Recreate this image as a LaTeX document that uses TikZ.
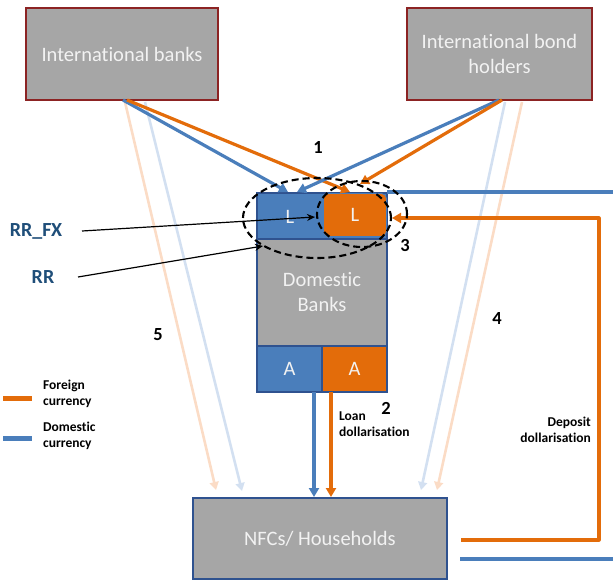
\documentclass[tikz,border=0pt]{standalone}
\usepackage{fontspec}
\setmainfont[Ligatures=NoCommon]{Carlito}
\usetikzlibrary{arrows.meta,calc}
\definecolor{cblue}{HTML}{4A7EBB}
\definecolor{corange}{HTML}{E36C0A}
\definecolor{cgray}{HTML}{A6A6A6}
\definecolor{cred}{HTML}{8C2323}
\definecolor{cnavy}{HTML}{2F528F}
\definecolor{lorange}{HTML}{FBDCC6}
\definecolor{lblue}{HTML}{D3E0F1}
\definecolor{rrblue}{HTML}{1F4E79}
\definecolor{btext}{HTML}{F2F2F2}
\begin{document}
\begin{tikzpicture}[x=1pt,y=-1pt,
  bigfont/.style={font=\fontsize{20.5}{25}\selectfont},
  ibox/.style={draw=cred, fill=cgray, line width=1.6pt, text=btext, bigfont, align=center, inner sep=0pt, outer sep=0pt},
  part/.style={draw=cnavy, line width=1.3pt, inner sep=0pt, outer sep=0pt, text=btext, bigfont, align=center},
  flow/.style={line width=3.2pt, -{Triangle[length=9pt,width=10pt]}},
  faint/.style={line width=2.6pt, -{Triangle[length=8pt,width=9pt]}},
  thinarrow/.style={line width=1.2pt, black, -{Stealth[length=8pt,width=7pt]}},
  num/.style={font=\bfseries\fontsize{18.5}{20}\selectfont, inner sep=0pt},
  small/.style={font=\bfseries\fontsize{13.5}{16.5}\selectfont, inner sep=0pt},
  rrlab/.style={font=\bfseries\fontsize{20}{22}\selectfont, text=rrblue, inner sep=0pt},
  ring/.style={draw=black, line width=2.1pt, dash pattern=on 7pt off 4pt}
]
\useasboundingbox (0,0) rectangle (613,581);

% boxes
\node[ibox, minimum width=192pt, minimum height=92pt] (ib) at (122,54) {International banks};
\node[ibox, minimum width=185pt, minimum height=92pt] (ibh) at (499.5,54) {International bond\\holders};
\node[part, fill=cgray, minimum width=254pt, minimum height=81pt] (nfc) at (320,538.5) {NFCs/ Households};

% faint arrows (drawn first)
\coordinate (f1s) at (125,102); \coordinate (f1e) at (216,490);
\coordinate (f2s) at (145,102); \coordinate (f2e) at (242,491);
\coordinate (f3s) at (505,102); \coordinate (f3e) at (421,490);
\coordinate (f4s) at (522,102); \coordinate (f4e) at (437,490);
\draw[faint, lorange] (f1s) -- (f1e);
\draw[faint, lblue] (f2s) -- (f2e);
\draw[faint, lblue] (f3s) -- (f3e);
\draw[faint, lorange] (f4s) -- (f4e);

% domestic banks stack
\node[part, fill=cblue, minimum width=130pt, minimum height=46pt] (lb) at (322,216) {};
\node[part, fill=cgray, minimum width=130pt, minimum height=107pt] (db) at (322,292.5) {Domestic\\Banks};
\node[part, fill=cblue, minimum width=65pt, minimum height=46pt] (ab) at (289.5,369) {A};
\node[part, fill=corange, minimum width=65pt, minimum height=46pt] (ao) at (354.5,369) {A};
\node[draw=cblue, line width=0.8pt, fill=corange, rounded corners=5pt, minimum width=63pt, minimum height=43pt, inner sep=0pt, text=btext, bigfont] (ol) at (355,215) {L};
\node[text=btext, bigfont, inner sep=0pt] (lt) at (290,217) {L};

% main flows from international investors
\coordinate (b1s) at (123,100); \coordinate (b1e) at (288,192);
\coordinate (o1s) at (127,100); \coordinate (o1e) at (350,192);
\coordinate (b2s) at (499,100); \coordinate (b2e) at (297,192);
\coordinate (o2s) at (502,100); \coordinate (o2e) at (360,184);
\draw[flow, cblue] (b1s) -- (b1e);
\draw[flow, corange] (o1s) -- (o1e);
\draw[flow, cblue] (b2s) -- (b2e);
\draw[flow, corange] (o2s) -- (o2e);

% flows from assets to NFCs
\coordinate (ab1) at (314,392); \coordinate (nb1) at (314,497);
\coordinate (ao1) at (331,392); \coordinate (no1) at (331,497);
\draw[flow, cblue] (ab1) -- (nb1);
\draw[flow, corange] (ao1) -- (no1);

% deposit lines on the right
\coordinate (rb1) at (387,192); \coordinate (rb2) at (613,192);
\draw[line width=3.2pt, cblue] (rb1) -- (rb2);
\coordinate (do1) at (461,540); \coordinate (do2) at (599,540);
\coordinate (do3) at (599,218); \coordinate (do4) at (392,218);
\draw[flow, corange, line join=round] (do1) -- (do2) -- (do3) -- (do4);
\coordinate (bb1) at (460,559); \coordinate (bb2) at (613,559);
\draw[line width=3.2pt, cblue] (bb1) -- (bb2);

% dashed rings
\draw[ring] (317,218) ellipse [x radius=74pt, y radius=40pt];
\draw[ring] (362,214) ellipse [x radius=45pt, y radius=33pt];

% RR labels and arrows
\node[rrlab] (rrfx) at (36,231) {RR\_FX};
\node[rrlab] (rr) at (43,277) {RR};
\coordinate (rf1) at (82,231); \coordinate (rf2) at (315,217);
\coordinate (rr1) at (78,277); \coordinate (rr2) at (263,246);
\draw[thinarrow] (rf1) -- (rf2);
\draw[thinarrow] (rr1) -- (rr2);

% numbers
\node[num] (n1) at (318,147) {1};
\node[num] (n2) at (386,408) {2};
\node[num] (n3) at (405,245) {3};
\node[num] (n4) at (497,318) {4};
\node[num] (n5) at (158,335) {5};

% text labels
\node[small, anchor=west, align=left] (loan) at (339,424) {Loan\\dollarisation};
\node[small, anchor=east, align=right] (dep) at (591,430) {Deposit\\dollarisation};

% legend
\draw[corange, line width=5pt] (3,398) -- (32,398);
\draw[cblue, line width=5pt] (3,438) -- (32,438);
\node[small, anchor=west, align=left] (lgf) at (43,394) {Foreign\\currency};
\node[small, anchor=west, align=left] (lgd) at (43,436) {Domestic\\currency};
\end{tikzpicture}
\end{document}
